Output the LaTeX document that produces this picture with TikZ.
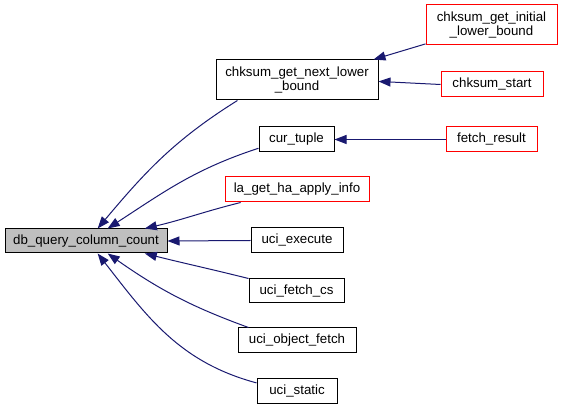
\documentclass[tikz,border=0pt]{standalone}
\usepackage{fontspec}
\setmainfont{Liberation Sans}
\usetikzlibrary{arrows.meta}
\definecolor{edgeblue}{HTML}{191970}
\definecolor{boxred}{HTML}{FF0000}
\tikzset{
  fn/.style={draw=black, line width=1pt, inner sep=0pt, align=center,
    font=\fontsize{13.3}{13.5}\selectfont},
  fnred/.style={fn, draw=boxred},
  fnroot/.style={fn, fill=black!25},
  call/.style={draw=edgeblue, line width=1pt,
    -{Triangle[length=12pt,width=9pt]}, fill=none},
}
\begin{document}
\begin{tikzpicture}[x=1pt,y=-1pt]
\useasboundingbox (0,0) rectangle (563,411);
\node[fnroot, minimum width=162pt, minimum height=24pt] (root) at (86,241) {db\_query\_column\_count};
\node[fn, minimum width=162pt, minimum height=40pt] (next) at (297,80) {chksum\_get\_next\_lower\\\_bound};
\node[fn, minimum width=75pt, minimum height=25pt] (cur) at (296.5,139.5) {cur\_tuple};
\node[fnred, minimum width=144pt, minimum height=25pt] (la) at (297,189.5) {la\_get\_ha\_apply\_info};
\node[fn, minimum width=92pt, minimum height=25pt] (exec) at (297,240.5) {uci\_execute};
\node[fn, minimum width=95pt, minimum height=24pt] (fetchcs) at (296.5,291) {uci\_fetch\_cs};
\node[fn, minimum width=118pt, minimum height=25pt] (objfetch) at (297,340.5) {uci\_object\_fetch};
\node[fn, minimum width=80pt, minimum height=25pt] (static) at (297,391.5) {uci\_static};
\node[fnred, minimum width=131pt, minimum height=40pt] (initial) at (491.5,25) {chksum\_get\_initial\\\_lower\_bound};
\node[fnred, minimum width=102pt, minimum height=25pt] (start) at (492,84.5) {chksum\_start};
\node[fnred, minimum width=91pt, minimum height=25pt] (fetchres) at (491.5,139.5) {fetch\_result};

\draw[call] (next.199) to[out=212, in=50] (root.47);
\draw[call] (cur.193) to[out=198, in=33] (root.30);
\draw[call] (la.193) to[out=194, in=13] (root.12);
\draw[call] (exec.west) -- (root.east);
\draw[call] (fetchcs.north west) to[out=166, in=-14] (root.-12);
\draw[call] (objfetch.165) to[out=160, in=-35] (root.-30);
\draw[call] (static.168) to[out=165, in=-52] (root.-47);
\draw[call] (initial.196) -- (next.15);
\draw[call] (start.west) -- (next.-1.5);
\draw[call] (fetchres) -- (cur);
\end{tikzpicture}
\end{document}
